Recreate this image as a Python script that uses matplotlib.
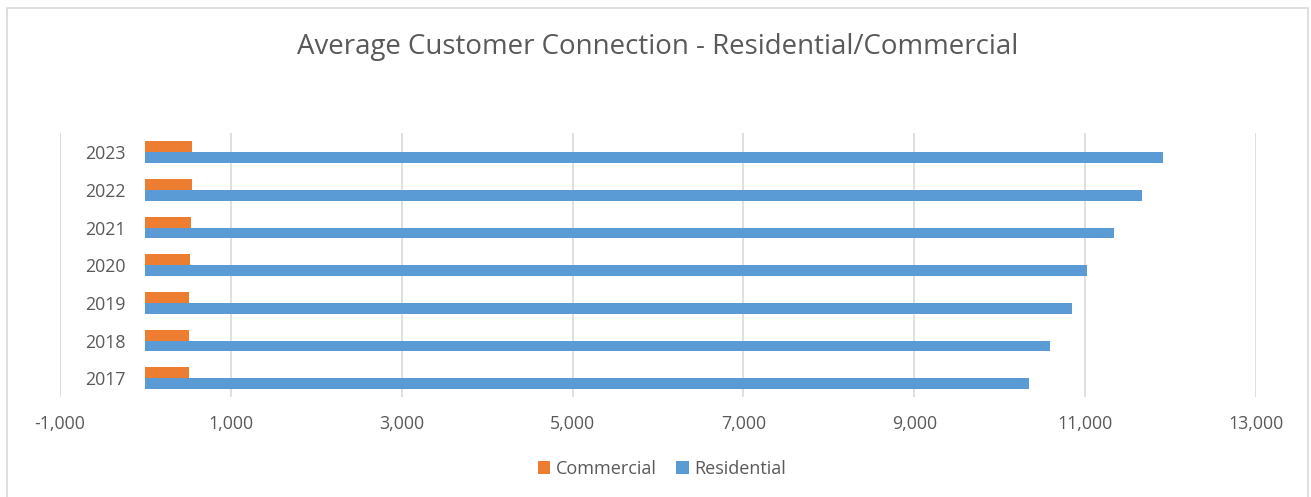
import matplotlib
matplotlib.use("Agg")
import matplotlib.pyplot as plt
from matplotlib.patches import Rectangle
import numpy as np

years = ["2017", "2018", "2019", "2020", "2021", "2022", "2023"]
commercial = [508, 508, 508, 520, 532, 547, 547]
residential = [10344, 10585, 10843, 11023, 11334, 11667, 11908]
x_ticks = [-1000, 1000, 3000, 5000, 7000, 9000, 11000, 13000]

plt.rcParams["font.family"] = ["Open Sans", "DejaVu Sans"]
text_color = "#595959"
orange = "#ED7D31"
blue = "#5B9BD5"

fig = plt.figure(figsize=(13.11, 4.97), dpi=100)
ax = fig.add_axes([60 / 1311, 1 - 397 / 497, (1256 - 60) / 1311, (397 - 133.4) / 497])

y = np.arange(len(years))
h = 0.29
ax.barh(y + h / 2, commercial, height=h, color=orange, label="Commercial", zorder=3)
ax.barh(y - h / 2, residential, height=h, color=blue, label="Residential", zorder=3)

ax.set_xlim(-1000, 13000)
ax.set_ylim(-0.5, len(years) - 0.5)
ax.set_xticks(x_ticks)
ax.set_xticklabels([f"{v:,}" for v in x_ticks])
ax.set_yticks(y)
ax.set_yticklabels(years)
ax.tick_params(axis="both", length=0, labelsize=12.8, colors=text_color)
ax.tick_params(axis="x", pad=13)
ax.tick_params(axis="y", pad=14)
ax.grid(axis="x", color="#D9D9D9", linewidth=1.2, zorder=0)
# category axis crosses the value axis at zero
ax.spines["left"].set_position(("data", 0))
for s in ax.spines.values():
    s.set_visible(False)

fig.text(658 / 1311, 1 - 47 / 497, "Average Customer Connection - Residential/Commercial",
         ha="center", va="center", fontsize=19.9, color=text_color)

leg = fig.legend(loc="center", bbox_to_anchor=(662 / 1311, 1 - 469 / 497), ncol=2,
                 frameon=False, fontsize=13, handlelength=0.7, handleheight=0.7,
                 handletextpad=0.3, columnspacing=1.1)
for t in leg.get_texts():
    t.set_color(text_color)

fig.patches.append(Rectangle((7 / 1311, -0.01), (1308 - 7) / 1311, 1 - 8 / 497 + 0.01,
                             transform=fig.transFigure, fill=False,
                             edgecolor="#D9D9D9", linewidth=1.2))

fig.savefig("out.png", dpi=100)
